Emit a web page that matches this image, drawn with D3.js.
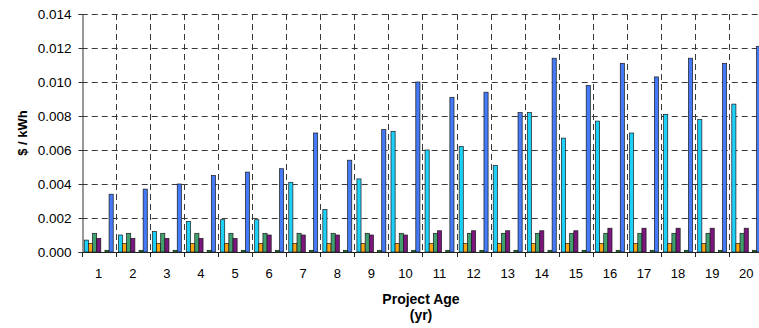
<!DOCTYPE html>
<html>
<head>
<meta charset="utf-8">
<script src="https://cdn.jsdelivr.net/npm/d3@7"></script>
<style>
  body { margin: 0; background: #fff; }
  svg text { font-family: Arial, "Liberation Sans", sans-serif; fill: #000; }
</style>
</head>
<body>
<div id="chart"></div>
<script>
// project age categories (yr)
const years = ["1","2","3","4","5","6","7","8","9","10","11","12","13","14","15","16","17","18","19","20"];

// series values ($ / kWh)
const cyanVals   = [0.0007,0.0010,0.0012,0.0018,0.0019,0.0019,0.0041,0.0025,0.0043,0.0071,
                    0.0060,0.0062,0.0051,0.0082,0.0067,0.0077,0.0070,0.0081,0.0078,0.0087];
const orangeVals = [0.0005,0.0005,0.0005,0.0005,0.0005,0.0005,0.0005,0.0005,0.0005,0.0005,
                    0.0005,0.0005,0.0005,0.0005,0.0005,0.0005,0.0005,0.0005,0.0005,0.0005];
const greenVals  = [0.0011,0.0011,0.0011,0.0011,0.0011,0.0011,0.0011,0.0011,0.0011,0.0011,
                    0.0011,0.0011,0.0011,0.0011,0.0011,0.0011,0.0011,0.0011,0.0011,0.0011];
const purpleVals = [0.0008,0.0008,0.0008,0.0008,0.0008,0.0010,0.0010,0.0010,0.0010,0.0010,
                    0.00125,0.00125,0.00125,0.00125,0.00125,0.0014,0.0014,0.0014,0.0014,0.0014];
const emptyVals  = [0,0,0,0,0,0,0,0,0,0,0,0,0,0,0,0,0,0,0,0];
const dkGreenVals= [0.0001,0.0001,0.0001,0.0001,0.0001,0.0001,0.0001,0.0001,0.0001,0.0001,
                    0.0001,0.0001,0.0001,0.0001,0.0001,0.0001,0.0001,0.0001,0.0001,0.0001];
const blueVals   = [0.0034,0.0037,0.0040,0.0045,0.0047,0.0049,0.0070,0.0054,0.0072,0.0100,
                    0.0091,0.0094,0.0082,0.0114,0.0098,0.0111,0.0103,0.0114,0.0111,0.0121];

const yTicks = [0,0.002,0.004,0.006,0.008,0.010,0.012,0.014];

const seriesNames = ["cyan","orange","green","purple","empty","dkgreen","blue"];
const seriesVals  = [cyanVals, orangeVals, greenVals, purpleVals, emptyVals, dkGreenVals, blueVals];
const colors      = ["#1DD0F8","#FFA50F","#40A070","#7A167E","#999999","#129020","#4479F7"];

//set up svg
const width = 759, height = 328;
const plot = {left: 81.7, right: 763.3, top: 14, bottom: 252};

let svg = d3.select("#chart")
            .append("svg")
            .attr("width", width)
            .attr("height", height);

// scales
let x = d3.scaleBand()
          .domain(years)
          .range([plot.left, plot.right])
          .padding(0);
let xInner = d3.scaleBand()
               .domain(seriesNames)
               .range([0, x.bandwidth()])
               .paddingInner(0)
               .paddingOuter(0.62);
let y = d3.scaleLinear()
          .domain([0, 0.014])
          .range([plot.bottom, plot.top]);

// horizontal gridlines (dashed)
svg.append("g")
   .selectAll("line")
   .data(yTicks.filter(d => d > 0))
   .enter()
   .append("line")
   .attr("x1", plot.left).attr("x2", plot.right)
   .attr("y1", d => Math.round(y(d)) + 0.5).attr("y2", d => Math.round(y(d)) + 0.5)
   .attr("stroke", "#3a3a3a")
   .attr("stroke-dasharray", "6,4");

// vertical gridlines at category boundaries
svg.append("g")
   .selectAll("line")
   .data(years.slice(1))
   .enter()
   .append("line")
   .attr("x1", d => Math.round(x(d)) + 0.5).attr("x2", d => Math.round(x(d)) + 0.5)
   .attr("y1", plot.top).attr("y2", plot.bottom)
   .attr("stroke", "#3a3a3a")
   .attr("stroke-dasharray", "6,4");

// bars
let groups = svg.append("g")
                .selectAll("g")
                .data(years)
                .enter()
                .append("g")
                .attr("transform", d => `translate(${x(d)},0)`);

groups.selectAll("rect")
      .data((d, i) => seriesNames.map((s, k) => ({s: s, v: seriesVals[k][i], c: colors[k]})))
      .enter()
      .filter(d => d.v > 0)
      .append("rect")
      .attr("x", d => xInner(d.s))
      .attr("y", d => y(d.v))
      .attr("width", xInner.bandwidth())
      .attr("height", d => plot.bottom - y(d.v))
      .attr("fill", d => d.c)
      .attr("stroke", "#1a1a1a")
      .attr("stroke-width", 0.7);

// x axis (ticks at category boundaries, labels centered)
let xAxis = svg.append("g")
               .attr("transform", `translate(0,${plot.bottom})`);
xAxis.append("line")
     .attr("x1", plot.left).attr("x2", plot.right)
     .attr("y1", 0.5).attr("y2", 0.5)
     .attr("stroke", "#222");
xAxis.selectAll(".tk")
     .data(years)
     .enter()
     .append("line")
     .attr("class", "tk")
     .attr("x1", d => Math.round(x(d)) + 0.5).attr("x2", d => Math.round(x(d)) + 0.5)
     .attr("y1", 0).attr("y2", 5)
     .attr("stroke", "#222");
xAxis.selectAll("text")
     .data(years)
     .enter()
     .append("text")
     .attr("x", d => x(d) + x.bandwidth() / 2)
     .attr("y", 26.3)
     .style("text-anchor", "middle")
     .style("font-size", "13px")
     .text(d => d);

// y axis
let yAxis = svg.append("g")
               .attr("transform", `translate(${Math.round(plot.left) + 0.5},0)`)
               .call(d3.axisLeft(y)
                       .tickValues(yTicks)
                       .tickSize(4)
                       .tickPadding(7)
                       .tickFormat(d3.format(".3f")));
yAxis.select(".domain").attr("stroke", "#333");
yAxis.selectAll(".tick line").attr("stroke", "#333");
yAxis.selectAll("text")
     .style("font-size", "13.5px")
     .style("font-family", "Arial, 'Liberation Sans', sans-serif");

// axis titles
svg.append("text")
   .attr("x", 421)
   .attr("y", 303.5)
   .style("text-anchor", "middle")
   .style("font-size", "14px")
   .style("font-weight", "bold")
   .text("Project Age");
svg.append("text")
   .attr("x", 421)
   .attr("y", 319.5)
   .style("text-anchor", "middle")
   .style("font-size", "14px")
   .style("font-weight", "bold")
   .text("(yr)");
svg.append("text")
   .attr("transform", "translate(27,133) rotate(-90)")
   .style("text-anchor", "middle")
   .style("font-size", "13px")
   .style("font-weight", "bold")
   .text("$ / kWh");
</script>
</body>
</html>
